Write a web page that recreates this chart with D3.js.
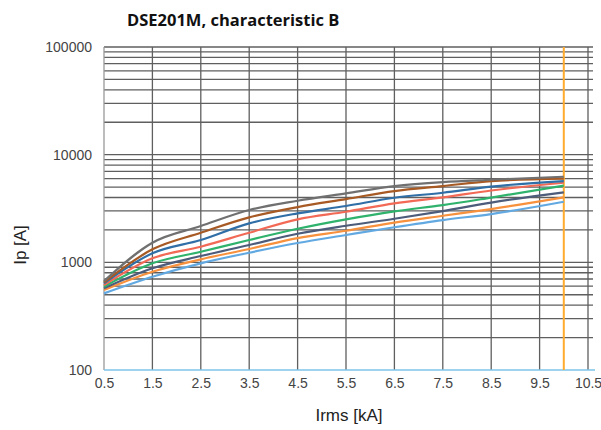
<!DOCTYPE html>
<html>
<head>
<meta charset="utf-8">
<script src="https://cdn.jsdelivr.net/npm/d3@7"></script>
<style>
  html, body { margin: 0; padding: 0; background: #fff; }
  svg { display: block; font-family: "Liberation Sans", Arial, sans-serif; }
</style>
</head>
<body>
<svg id="chart" width="601" height="430"></svg>
<script>
// ---- data ----
const xValues = [0.5, 1.5, 2.5, 3.5, 4.5, 5.5, 6.5, 7.5, 8.5, 10];
const seriesNames = ["s1", "s2", "s3", "s4", "s5", "s6", "s7", "s8"];
const seriesColors = ["#707070", "#a85a24", "#2f6ea6", "#f26a56", "#2fb26c", "#4d5c7a", "#f7913d", "#62a9e2"];
const s1 = [670, 1521, 2173, 3060, 3733, 4372, 5110, 5567, 5850, 6237];
const s2 = [652, 1320, 1883, 2617, 3262, 3870, 4592, 5110, 5688, 6000];
const s3 = [638, 1212, 1611, 2301, 2851, 3334, 3981, 4430, 5050, 5688];
const s4 = [615, 1089, 1396, 1883, 2508, 2950, 3529, 4013, 4650, 5483];
const s5 = [594, 979, 1254, 1611, 2051, 2508, 2975, 3404, 3997, 5150];
const s6 = [573, 880, 1144, 1448, 1843, 2188, 2541, 2994, 3591, 4467];
const s7 = [553, 818, 1066, 1329, 1681, 1965, 2342, 2708, 3126, 4013];
const s8 = [515, 735, 979, 1228, 1511, 1793, 2118, 2470, 2809, 3653];
const allSeries = [s1, s2, s3, s4, s5, s6, s7, s8];
const xTickValues = [0.5, 1.5, 2.5, 3.5, 4.5, 5.5, 6.5, 7.5, 8.5, 9.5, 10.5];
const yTickLabels = ["100", "1000", "10000", "100000"];
const limitX = 10;
const title = "DSE201M, characteristic B";
const xTitle = "Irms [kA]";
const yTitle = "Ip [A]";

// ---- layout ----
const svg = d3.select("#chart");
const mLeft = 104, mRight = 588, mTop = 47, mBottom = 370;
const x = d3.scaleLinear().domain([0.5, 10.5]).range([mLeft, mRight]);
const y = d3.scaleLog().domain([100, 100000]).range([mBottom, mTop]);

// horizontal grid (log minor)
const hLines = [];
for (let d = 100; d < 100000; d *= 10) {
  for (let k = 1; k <= 9; k++) hLines.push(d * k);
}
hLines.push(100000);
svg.append("g").selectAll("line").data(hLines.filter(v => v > 100)).join("line")
  .attr("x1", mLeft).attr("x2", 593)
  .attr("y1", d => y(d)).attr("y2", d => y(d))
  .attr("stroke", "#5f5f5f").attr("stroke-width", 1.3);

// vertical grid
svg.append("g").selectAll("line").data(xTickValues).join("line")
  .attr("x1", d => x(d)).attr("x2", d => x(d))
  .attr("y1", mTop).attr("y2", mBottom)
  .attr("stroke", d => d === 0.5 ? "#999" : "#5f5f5f").attr("stroke-width", 1.3);

// bottom axis line
svg.append("line").attr("x1", mLeft).attr("x2", 595)
  .attr("y1", mBottom).attr("y2", mBottom)
  .attr("stroke", "#7cc4ea").attr("stroke-width", 1.5);

// x tick labels via axis
const xAxis = d3.axisBottom(x).tickValues(xTickValues).tickSize(0).tickPadding(0)
  .tickFormat(d3.format(".1f"));
const gx = svg.append("g").attr("transform", `translate(0,${mBottom + 8})`).call(xAxis);
gx.select(".domain").remove();
gx.selectAll("text").attr("font-size", 14).attr("fill", "#444")
  .attr("font-family", "'Liberation Sans', Arial, sans-serif");

// y tick labels via axis
const yAxis = d3.axisLeft(y).tickValues(yTickLabels.map(Number)).tickSize(0).tickPadding(0)
  .tickFormat(d => String(d));
const gy = svg.append("g").attr("transform", `translate(${mLeft - 12},0)`).call(yAxis);
gy.select(".domain").remove();
gy.selectAll("text").attr("font-size", 14).attr("fill", "#444")
  .attr("font-family", "'Liberation Sans', Arial, sans-serif");

// limit line
svg.append("line").attr("x1", x(limitX)).attr("x2", x(limitX))
  .attr("y1", mTop).attr("y2", mBottom)
  .attr("stroke", "#ffab2e").attr("stroke-width", 2);

// series
const line = d3.line().x((d, i) => x(xValues[i])).y(d => y(d)).curve(d3.curveMonotoneX);
svg.append("g").selectAll("path").data(allSeries.slice().reverse()).join("path")
  .attr("d", d => line(d))
  .attr("fill", "none")
  .attr("stroke", (d, i) => seriesColors[allSeries.length - 1 - i])
  .attr("stroke-width", 2.2);

// titles
svg.append("text").attr("x", 127).attr("y", 26).text(title)
  .attr("font-family", "'Open Sans', sans-serif")
  .attr("font-size", 16.5).attr("font-weight", "bold").attr("fill", "#111");
svg.append("text").attr("x", 349).attr("y", 421).attr("text-anchor", "middle").text(xTitle)
  .attr("font-size", 17).attr("fill", "#222");
svg.append("text").attr("transform", "translate(26,245) rotate(-90)")
  .attr("text-anchor", "middle").text(yTitle)
  .attr("font-size", 17).attr("fill", "#222");
</script>
</body>
</html>
